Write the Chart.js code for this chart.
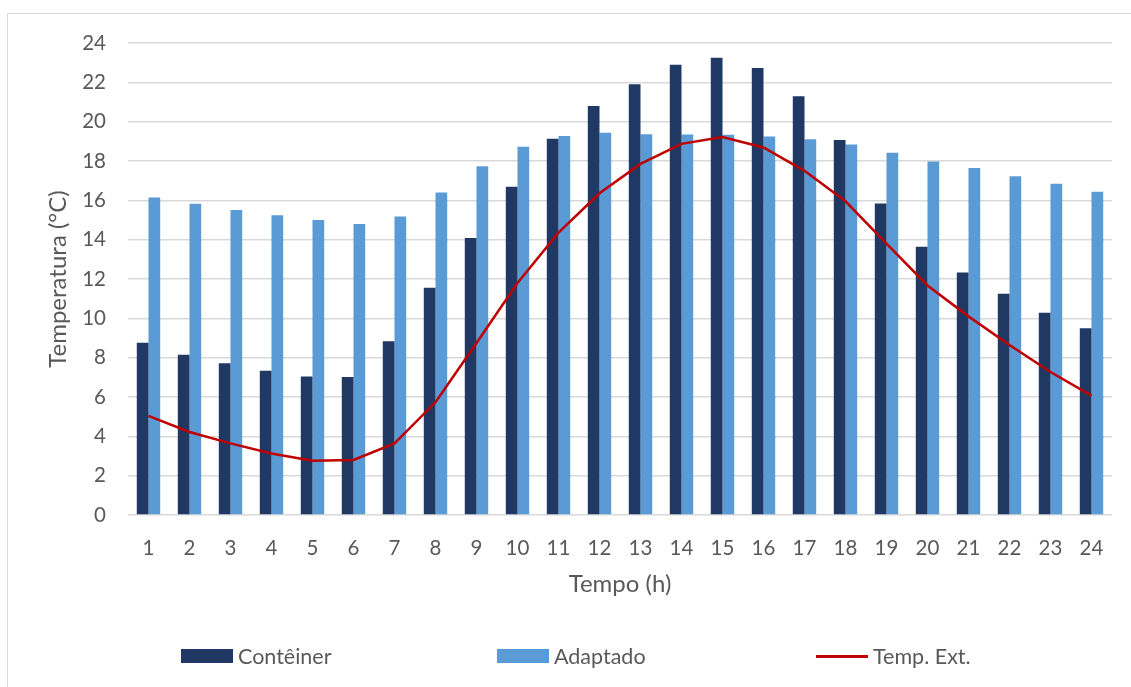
<!DOCTYPE html>
<html lang="pt">
<head>
<meta charset="utf-8">
<title>Temperatura horária</title>
<script src="https://cdn.jsdelivr.net/npm/chart.js@4/dist/chart.umd.min.js"></script>
<style>
  html, body { margin: 0; padding: 0; background: #fff; }
  #wrap { position: relative; width: 1131px; height: 687px; overflow: hidden; }
  #frame { position: absolute; left: 7px; top: 13px; width: 1140px; height: 700px;
           border: 1px solid #D9D9D9; box-sizing: border-box; }
  #chart { position: absolute; left: 0; top: 0; }
  .leg { position: absolute; top: 645px; height: 22px; display: flex; align-items: center;
         font-family: Lato, "Noto Sans", sans-serif; font-size: 21.5px; color: #595959; white-space: nowrap; }
  .leg .sw { display: inline-block; width: 52px; height: 14px; margin-right: 5px; }
  .leg .ln { display: inline-block; width: 52px; height: 3px; margin-right: 5px; background: #C00000; }
</style>
</head>
<body>
<div id="wrap">
  <div id="frame"></div>
  <canvas id="chart" width="1131" height="687"></canvas>
  <div class="leg" style="left:181px"><span class="sw" style="background:#203864"></span>Contêiner</div>
  <div class="leg" style="left:497px"><span class="sw" style="background:#5B9BD5"></span>Adaptado</div>
  <div class="leg" style="left:816px"><span class="ln"></span>Temp. Ext.</div>
</div>
<script>
// Hours of the day (x categories)
const hours = ['1','2','3','4','5','6','7','8','9','10','11','12','13','14','15','16','17','18','19','20','21','22','23','24'];

// Internal temperature, standard container (°C)
const conteiner = [8.76, 8.15, 7.71, 7.33, 7.04, 7.02, 8.84, 11.55, 14.09, 16.69, 19.13, 20.80,
                   21.90, 22.89, 23.25, 22.73, 21.29, 19.07, 15.84, 13.64, 12.33, 11.25, 10.29, 9.49];

// Internal temperature, adapted container (°C)
const adaptado = [16.15, 15.82, 15.51, 15.24, 15.00, 14.80, 15.18, 16.40, 17.73, 18.73, 19.27, 19.44,
                  19.36, 19.35, 19.33, 19.25, 19.11, 18.84, 18.42, 17.98, 17.64, 17.22, 16.84, 16.44];

// Outdoor air temperature (°C)
const tempExt = [5.04, 4.22, 3.64, 3.13, 2.76, 2.80, 3.64, 5.73, 8.75, 11.80, 14.36, 16.36,
                 17.85, 18.87, 19.22, 18.69, 17.50, 15.95, 13.80, 11.67, 10.10, 8.64, 7.27, 6.07];

const yMin = 0, yMax = 24, yStep = 2;

const FONT = 'Lato, "Noto Sans", sans-serif';
const TEXT = '#595959';
const GRID = '#D9D9D9';

new Chart(document.getElementById('chart'), {
  data: {
    labels: hours,
    datasets: [
      { type: 'bar', label: 'Contêiner', data: conteiner, backgroundColor: '#203864',
        categoryPercentage: 0.571, barPercentage: 1.0, order: 2 },
      { type: 'bar', label: 'Adaptado', data: adaptado, backgroundColor: '#5B9BD5',
        categoryPercentage: 0.571, barPercentage: 1.0, order: 2 },
      { type: 'line', label: 'Temp. Ext.', data: tempExt, borderColor: '#C00000',
        borderWidth: 2.5, pointRadius: 0, tension: 0, fill: false, order: 0 }
    ]
  },
  options: {
    responsive: false,
    animation: false,
    layout: { padding: { left: 0, right: 19, top: 43, bottom: 0 } },
    plugins: { legend: { display: false }, tooltip: { enabled: false } },
    scales: {
      x: {
        grid: { display: false, drawTicks: false },
        border: { display: false },
        ticks: { color: TEXT, font: { family: FONT, size: 20.5 }, padding: 21, maxRotation: 0 },
        title: { display: true, text: 'Tempo (h)', color: TEXT,
                 font: { family: FONT, size: 24 }, padding: { top: 0, bottom: 88 } },
        afterFit: (s) => { s.height = 172; }
      },
      y: {
        min: yMin, max: yMax,
        grid: { color: GRID, lineWidth: 1.5, drawTicks: false },
        border: { display: false },
        ticks: { stepSize: yStep, color: TEXT, font: { family: FONT, size: 20.5 }, padding: 22 },
        title: { display: true, text: 'Temperatura (°C)', color: TEXT,
                 font: { family: FONT, size: 24 }, padding: { top: 44, bottom: 0 } },
        afterFit: (s) => { s.width = 128; }
      }
    }
  }
});
</script>
</body>
</html>
